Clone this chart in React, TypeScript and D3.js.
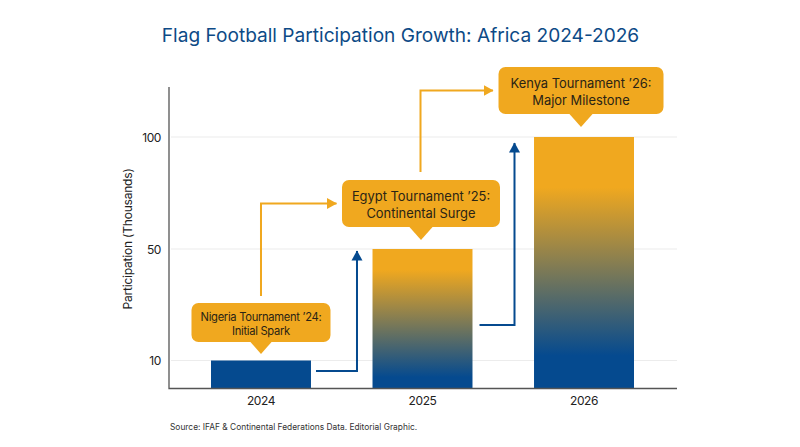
import React from "react";
import * as d3 from "d3";

const years = ["2024", "2025", "2026"];
const participation = [10, 50, 100];
const yTicks = [10, 50, 100];
const calloutLines = [
  ["Nigeria Tournament ’24:", "Initial Spark"],
  ["Egypt Tournament ’25:", "Continental Surge"],
  ["Kenya Tournament ’26:", "Major Milestone"],
];
const TITLE = "Flag Football Participation Growth: Africa 2024-2026";
const SOURCE = "Source: IFAF & Continental Federations Data. Editorial Graphic.";
const NAVY = "#054a8f";
const AMBER = "#f0a81f";
const FONT = "Inter, sans-serif";

const x = d3.scaleBand().domain(years).range([146.4, 698.6]).paddingInner(0.381).paddingOuter(0.4);
const y = d3.scaleLinear().domain([0, 10, 50, 100, 122]).range([388.5, 360.5, 249, 137, 87]);
const cx = (yr: string) => (x(yr) as number) + x.bandwidth() / 2;
const line = d3.line();

const boxes = [
  { w: 139, h: 39, fs: 11.2, ls: -0.3, lh: 14.5, tail: 11, gap: 6.5, dx: 0 },
  { w: 158, h: 47, fs: 12.9, ls: 0, lh: 17, tail: 12, gap: 9, dx: -1.5 },
  { w: 165, h: 47, fs: 12.9, ls: 0, lh: 17, tail: 12, gap: 10, dx: -3 },
];

function Callout({ i }: { i: number }) {
  const b = boxes[i];
  const c = cx(years[i]) + b.dx;
  const tip = y(participation[i]) - b.gap;
  const bot = tip - b.tail - 1;
  const top = bot - b.h;
  return (
    <g>
      <rect x={c - b.w / 2} y={top} width={b.w} height={b.h} rx={7} fill={AMBER} />
      <path d={`${line([[c - b.tail, bot - 0.5], [c + b.tail, bot - 0.5], [c, tip]])}Z`} fill={AMBER} />
      {calloutLines[i].map((t, k) => (
        <text key={k} x={c} y={top + (b.h - b.lh) / 2 + 5.5 + k * b.lh} textAnchor="middle"
          fontSize={b.fs} letterSpacing={b.ls} fill="#2a2415" fontFamily={FONT}>{t}</text>
      ))}
    </g>
  );
}

function Arrow({ pts, color, id }: { pts: [number, number][]; color: string; id: string }) {
  return <path d={line(pts) as string} fill="none" stroke={color} strokeWidth={2} markerEnd={`url(#${id})`} />;
}

export default function App() {
  const [x0, x1, x2] = years.map(cx);
  const yA = y(50) - 45.5;
  const yB = y(100) - 46.5;
  return (
    <svg width={800} height={447} viewBox="0 0 800 447"
      style={{ position: "fixed", left: 0, top: 0, background: "#fff" }}>
      <defs>
        <linearGradient id="g25" x1="0" y1="0" x2="0" y2="1">
          <stop offset="0.15" stopColor={AMBER} />
          <stop offset="0.92" stopColor={NAVY} />
        </linearGradient>
        <linearGradient id="g26" x1="0" y1="0" x2="0" y2="1">
          <stop offset="0.2" stopColor={AMBER} />
          <stop offset="0.87" stopColor={NAVY} />
        </linearGradient>
        <marker id="mA" markerUnits="userSpaceOnUse" markerWidth={12} markerHeight={12} refX={9.5} refY={6} orient="auto">
          <path d="M0,0.5L10,6L0,11.5Z" fill={AMBER} />
        </marker>
        <marker id="mN" markerUnits="userSpaceOnUse" markerWidth={12} markerHeight={12} refX={9.5} refY={6} orient="auto">
          <path d="M0,0.5L10,6L0,11.5Z" fill={NAVY} />
        </marker>
      </defs>

      <text x={400.5} y={42} textAnchor="middle" fontSize={19.1} fill="#0d4a86" fontFamily={FONT}>{TITLE}</text>

      {yTicks.map((t) => (
        <g key={t}>
          <line x1={171} x2={677} y1={y(t)} y2={y(t)} stroke="#ececec" strokeWidth={1.2} />
          <text x={161} y={y(t) + 4.5} textAnchor="end" fontSize={12} letterSpacing={-0.4} fill="#222" fontFamily={FONT}>{t}</text>
        </g>
      ))}

      {years.map((yr, i) => (
        <rect key={yr} x={x(yr)} y={y(participation[i])} width={x.bandwidth()} height={y(0) - y(participation[i])}
          fill={i === 0 ? NAVY : `url(#g${yr.slice(2)})`} />
      ))}

      <path d={line([[169, 87], [169, y(0)], [677, y(0)]]) as string} fill="none" stroke="#555" strokeWidth={1.3} />

      {years.map((yr) => (
        <text key={yr} x={cx(yr)} y={405} textAnchor="middle" fontSize={12} letterSpacing={-0.4} fill="#222" fontFamily={FONT}>{yr}</text>
      ))}

      <text transform="translate(132,239) rotate(-90)" textAnchor="middle" fontSize={12} letterSpacing={-0.2} fill="#222" fontFamily={FONT}>
        Participation (Thousands)
      </text>

      <Arrow id="mA" color={AMBER} pts={[[x0, 296], [x0, yA], [x1 - 86, yA]]} />
      <Arrow id="mA" color={AMBER} pts={[[x1 - 2, 172], [x1 - 2, yB], [x2 - 91, yB]]} />
      <Arrow id="mN" color={NAVY} pts={[[x0 + 55, y(10) + 10.5], [x0 + 96, y(10) + 10.5], [x0 + 96, y(50) + 2]]} />
      <Arrow id="mN" color={NAVY} pts={[[x1 + 57, 325], [x1 + 92, 325], [x1 + 92, y(100) + 6]]} />

      {years.map((_, i) => <Callout key={i} i={i} />)}

      <text x={170} y={430} fontSize={8.4} fill="#333" fontFamily={FONT}>{SOURCE}</text>
    </svg>
  );
}
